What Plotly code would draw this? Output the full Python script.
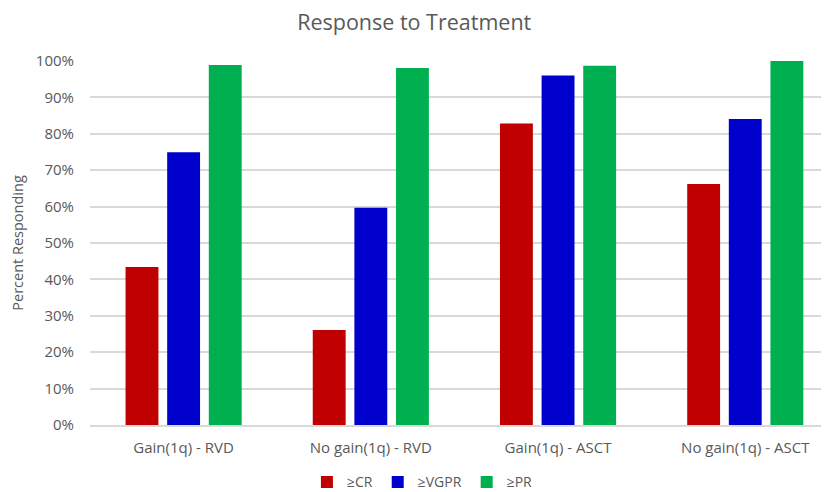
import plotly.graph_objects as go

categories = ["Gain(1q) - RVD", "No gain(1q) - RVD", "Gain(1q) - ASCT", "No gain(1q) - ASCT"]
series_names = ["≥CR", "≥VGPR", "≥PR"]
cr = [0.434, 0.261, 0.828, 0.662]
vgpr = [0.749, 0.597, 0.960, 0.841]
pr = [0.989, 0.981, 0.987, 1.000]
colors = ["#C00000", "#0000CC", "#00B050"]
tick_vals = [0, 0.1, 0.2, 0.3, 0.4, 0.5, 0.6, 0.7, 0.8, 0.9, 1.0]
tick_text = ["0%", "10%", "20%", "30%", "40%", "50%", "60%", "70%", "80%", "90%", "100%"]

font_family = "Open Sans, sans-serif"

fig = go.Figure()
for name, vals, col in zip(series_names, [cr, vgpr, pr], colors):
    fig.add_trace(go.Bar(x=categories, y=vals, name=name, marker_color=col,
                         marker_line_width=0))

fig.update_layout(
    width=829, height=492,
    paper_bgcolor="white", plot_bgcolor="white",
    margin=dict(l=82, r=0, t=53, b=75, autoexpand=False),
    title=dict(text="Response to Treatment", x=0.49, xanchor="center",
               y=0.9715, yanchor="middle",
               font=dict(family=font_family, size=21.5, color="#595959")),
    barmode="group", bargap=0.333, bargroupgap=0.21,
    font=dict(family=font_family, color="#595959", size=14),
    legend=dict(orientation="h", x=0.445, xanchor="center",
                yref="container", y=0.036, yanchor="middle",
                itemwidth=30, bgcolor="rgba(0,0,0,0)",
                font=dict(size=14, color="#595959"), traceorder="normal"),
)
fig.update_xaxes(range=[-0.5, 3.49], showgrid=False, ticks="", showline=True,
                 linecolor="#d9d9d9", linewidth=1.5, automargin=False,
                 ticklabelstandoff=8,
                 tickfont=dict(size=15, color="#595959"))
fig.update_yaxes(range=[0, 1], tickvals=tick_vals, ticktext=tick_text,
                 showgrid=True, gridcolor="#d9d9d9", gridwidth=1.5, zeroline=False,
                 ticks="", ticklabelstandoff=15, automargin=False,
                 title=dict(text="Percent Responding", font=dict(size=14.5, color="#595959"), standoff=22),
                 tickfont=dict(size=15, color="#595959"))

fig.write_html("out.html")
